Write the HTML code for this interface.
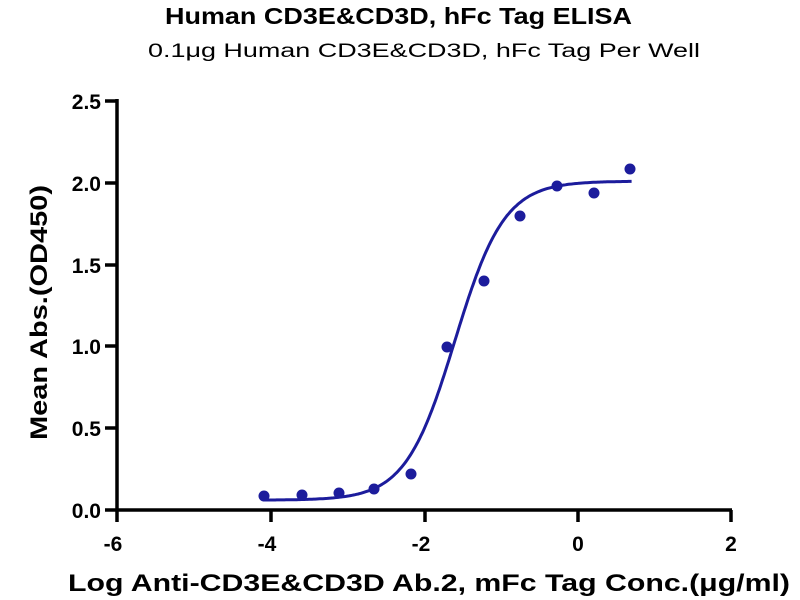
<!DOCTYPE html><html><head><style>body{margin:0;background:#fff}svg{display:block}text{font-family:"Liberation Sans",sans-serif}</style></head><body>
<svg id="s" width="800" height="600" xmlns="http://www.w3.org/2000/svg">
<text x="165" y="24" font-size="23" font-weight="bold" textLength="467" lengthAdjust="spacingAndGlyphs">Human CD3E&amp;CD3D, hFc Tag ELISA</text>
<text x="148" y="57" font-size="19" textLength="552" lengthAdjust="spacingAndGlyphs">0.1μg Human CD3E&amp;CD3D, hFc Tag  Per Well</text>
<g stroke="#000" stroke-width="3.5" fill="none">
<line x1="117" y1="99" x2="117" y2="511"/>
<line x1="115.5" y1="510" x2="732" y2="510"/>
<line x1="105" y1="101" x2="117" y2="101"/><line x1="105" y1="183" x2="117" y2="183"/><line x1="105" y1="265" x2="117" y2="265"/><line x1="105" y1="346" x2="117" y2="346"/><line x1="105" y1="428" x2="117" y2="428"/><line x1="105" y1="510" x2="117" y2="510"/>
<line x1="117" y1="510" x2="117" y2="522"/><line x1="271" y1="510" x2="271" y2="522"/><line x1="425" y1="510" x2="425" y2="522"/><line x1="578" y1="510" x2="578" y2="522"/><line x1="731" y1="510" x2="731" y2="522"/>
</g>
<g font-size="21" font-weight="bold" text-anchor="end">
<text x="101" y="109">2.5</text><text x="101" y="191">2.0</text><text x="101" y="273">1.5</text><text x="101" y="354">1.0</text><text x="101" y="436">0.5</text><text x="101" y="518">0.0</text></g>
<g font-size="21" font-weight="bold" text-anchor="middle">
<text x="113" y="551">-6</text><text x="267" y="551">-4</text><text x="421" y="551">-2</text><text x="578" y="551">0</text><text x="731" y="551">2</text></g>
<text x="68" y="591" font-size="24" font-weight="bold" textLength="722" lengthAdjust="spacingAndGlyphs">Log Anti-CD3E&amp;CD3D Ab.2, mFc Tag Conc.(μg/ml)</text>
<text transform="translate(47,440) rotate(-90)" font-size="24" font-weight="bold" textLength="255" lengthAdjust="spacingAndGlyphs">Mean Abs.(OD450)</text>
<path id="c" fill="none" stroke="#1c1c9c" stroke-width="3"/>
<g fill="#1c1c9c" id="p"></g>
</svg>
<script>
var X=function(v){return 117+(v+6)*76.8},Y=function(v){return 510-v*163.6};
var d="";for(var x=-4.1;x<=0.701;x+=0.02){var y=0.06+(2.01-0.06)/(1+Math.pow(10,(-1.6-x)*1.35));d+=(d?"L":"M")+X(x).toFixed(1)+","+Y(y).toFixed(1);}
document.getElementById("c").setAttribute("d",d);
var pts=[[264,496],[302,495],[339,493],[374,489],[411,474],[447,347],[484,281],[520,216],[557,186],[594,193],[630,169]],g=document.getElementById("p"),h="";
pts.forEach(function(p){h+='<circle cx="'+p[0]+'" cy="'+p[1]+'" r="5.5"/>'});g.innerHTML=h;
</script>
</body></html>
